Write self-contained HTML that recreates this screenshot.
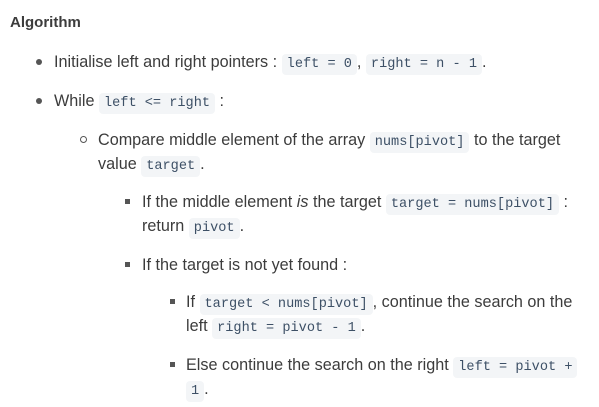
<!DOCTYPE html>
<html><head><meta charset="utf-8"><style>
body{margin:0;width:599px;height:407px;background:#fff;position:relative;font-family:"Liberation Sans",sans-serif;color:#3c3c3c;font-size:16.2px;overflow:hidden}
.l{position:absolute;white-space:nowrap;line-height:20px}
code{font-family:"Liberation Mono",monospace;font-size:13.6px;color:#3d5066;background:#f3f5f7;border-radius:4px;padding:3px 5px}
.b{position:absolute;width:6px;height:6px;border-radius:50%;background:#555}
.c{position:absolute;width:5px;height:5px;border-radius:50%;border:1px solid #555}
.s{position:absolute;width:5px;height:5px;background:#555}
</style></head><body>
<div class="l" style="left:10px;top:13px;font-weight:bold;font-size:15px">Algorithm</div>

<div class="b" style="left:36px;top:59px"></div>
<div class="l" style="left:54px;top:52px">Initialise left and right pointers : <code>left = 0</code>, <code>right = n - 1</code>.</div>

<div class="b" style="left:36px;top:98px"></div>
<div class="l" style="left:54px;top:91px">While <code>left &lt;= right</code> :</div>

<div class="c" style="left:80px;top:136px"></div>
<div class="l" style="left:98px;top:130px">Compare middle element of the array <code>nums[pivot]</code> to the target</div>
<div class="l" style="left:98px;top:154px">value <code>target</code>.</div>

<div class="s" style="left:125px;top:199px"></div>
<div class="l" style="left:142px;top:192px">If the middle element <i>is</i> the target <code>target = nums[pivot]</code> :</div>
<div class="l" style="left:142px;top:216px">return <code>pivot</code>.</div>

<div class="s" style="left:125px;top:262px"></div>
<div class="l" style="left:142px;top:255px">If the target is not yet found :</div>

<div class="s" style="left:170px;top:299px"></div>
<div class="l" style="left:186px;top:292px">If <code>target &lt; nums[pivot]</code>, continue the search on the</div>
<div class="l" style="left:186px;top:316px">left <code>right = pivot - 1</code>.</div>

<div class="s" style="left:170px;top:362px"></div>
<div class="l" style="left:186px;top:355px">Else continue the search on the right <code>left = pivot +</code></div>
<div class="l" style="left:186px;top:379px"><code>1</code>.</div>
</body></html>
